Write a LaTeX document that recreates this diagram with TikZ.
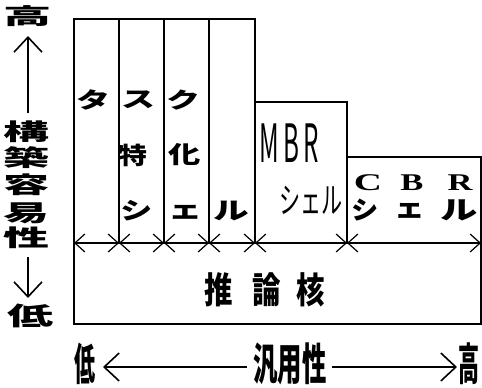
\documentclass[tikz,border=0pt]{standalone}
\usepackage{fontspec}
\setmainfont{Noto Sans CJK JP}
\newfontfamily\latinserif{Liberation Serif}
\usetikzlibrary{arrows.meta}
\newcommand\myscl[3]{\scalebox{#1}[#2]{#3}}
\begin{document}
\begin{tikzpicture}[x=1pt,y=-1pt,line width=1.3pt,
  lbl/.style={inner sep=0pt,anchor=center},
  dimarrow/.style={line width=1.2pt,{Straight Barb[length=10pt,width=18pt]}-{Straight Barb[length=10pt,width=18pt]}},
  axarrow/.style={line width=1.6pt,-{Straight Barb[length=15pt,width=28pt]}},
  vchar/.style={lbl,font=\fontsize{46pt}{46pt}\bfseries\selectfont},
  colchar/.style={lbl,font=\fontsize{34pt}{34pt}\bfseries\selectfont},
  bchar/.style={lbl,font=\fontsize{42pt}{42pt}\bfseries\selectfont},
  kchar/.style={lbl,font=\fontsize{38pt}{38pt}\bfseries\selectfont},
  cbrl/.style={lbl,font=\latinserif\fontsize{30pt}{30pt}\bfseries\selectfont},
]
\useasboundingbox (0,0) rectangle (482,388);

% boundary coordinates on the arrow line
\coordinate (b0) at (74,243);
\coordinate (b1) at (119,243);
\coordinate (b2) at (164,243);
\coordinate (b3) at (209,243);
\coordinate (b4) at (255,243);
\coordinate (b5) at (347,243);
\coordinate (b6) at (481,243);

% task-specific shell block
\draw (b0) -- (74,19) -- (255,19) -- (b4);
\draw (119,19) -- (b1);
\draw (164,19) -- (b2);
\draw (209,19) -- (b3);
% MBR block
\draw (b4) -- (255,102) -- (347,102) -- (b5);
% CBR block
\draw (b5) -- (347,157) -- (481,157) -- (b6);
% inference core box
\draw (b0) rectangle (481,324);

% dimension arrows
\draw[dimarrow] (b0) -- (b1);
\draw[dimarrow] (b1) -- (b2);
\draw[dimarrow] (b2) -- (b3);
\draw[dimarrow] (b3) -- (b4);
\draw[dimarrow] (b4) -- (b5);
\draw[dimarrow] (b5) -- (b6);

% column texts
\node[colchar] (t1) at (93,100) {\myscl{1}{0.65}{タ}};
\node[colchar] (t2) at (138,100) {\myscl{1}{0.65}{ス}};
\node[colchar] (t3) at (183,100) {\myscl{1}{0.65}{ク}};
\node[colchar] (t4) at (133,155) {\myscl{0.85}{0.7}{特}};
\node[colchar] (t5) at (185,155) {\myscl{0.95}{0.7}{化}};
\node[colchar] (t6) at (137,211) {\myscl{0.95}{0.7}{シ}};
\node[colchar] (t7) at (185,212) {\myscl{1}{0.7}{ェ}};
\node[colchar] (t8) at (231,211) {\myscl{1.05}{0.7}{ル}};

% MBR shell
\node[lbl,font=\fontsize{44pt}{44pt}\selectfont] (mbr) at (289,143) {\myscl{0.55}{1.2}{M\,B\,R}};
\node[lbl,font=\fontsize{34pt}{34pt}\selectfont] (mbrs) at (311,200) {\myscl{0.62}{1.05}{シェル}};

% CBR shell
\node[cbrl] (c1) at (368,183) {\myscl{1.3}{0.8}{C}};
\node[cbrl] (c2) at (412,183) {\myscl{1.15}{0.8}{B}};
\node[cbrl] (c3) at (460,183) {\myscl{1.15}{0.8}{R}};
\node[colchar] (c4) at (365,210) {\myscl{0.8}{0.75}{シ}};
\node[colchar] (c5) at (410,211) {\myscl{0.9}{0.75}{ェ}};
\node[colchar] (c6) at (459,210) {\myscl{1.1}{0.75}{ル}};

% inference core
\node[kchar] (k1) at (219,290) {\myscl{0.75}{0.95}{推}};
\node[kchar] (k2) at (267,290) {\myscl{0.75}{0.95}{論}};
\node[kchar] (k3) at (311,290) {\myscl{0.75}{0.95}{核}};

% vertical axis
\node[vchar] (vhi) at (28,16) {\myscl{1.05}{0.48}{高}};
\coordinate (vu1) at (28,113);
\coordinate (vu2) at (28,36);
\draw[axarrow] (vu1) -- (vu2);
\node[vchar] (v1) at (27,132) {\myscl{1}{0.5}{構}};
\node[vchar] (v2) at (27,158) {\myscl{1}{0.5}{築}};
\node[vchar] (v3) at (27,185) {\myscl{1}{0.5}{容}};
\node[vchar] (v4) at (27,213) {\myscl{1}{0.5}{易}};
\node[vchar] (v5) at (27,238) {\myscl{1}{0.5}{性}};
\coordinate (vd1) at (28,257);
\coordinate (vd2) at (28,298);
\draw[axarrow] (vd1) -- (vd2);
\node[vchar] (vlo) at (30,316) {\myscl{1}{0.55}{低}};

% horizontal axis
\node[bchar] (hlo) at (85,364) {\myscl{0.5}{1.05}{低}};
\node[bchar] (hmid) at (290,364) {\myscl{0.58}{1.05}{汎用性}};
\node[bchar] (hhi) at (469,364) {\myscl{0.5}{1.05}{高}};
\coordinate (ha1) at (247,367);
\coordinate (ha2) at (103,367);
\coordinate (hb1) at (332,367);
\coordinate (hb2) at (457,367);
\draw[axarrow] (ha1) -- (ha2);
\draw[axarrow] (hb1) -- (hb2);
\end{tikzpicture}
\end{document}
